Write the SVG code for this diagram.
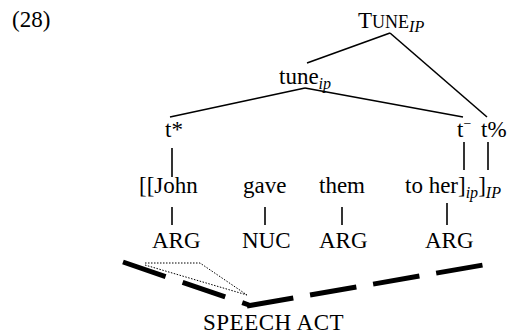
<svg xmlns="http://www.w3.org/2000/svg" width="510" height="333" viewBox="0 0 510 333">
<style>
text{font-size:23px;fill:#000}
.sub{font-style:italic;font-size:16px}
.sc{font-size:18px}
.ln{stroke:#000;stroke-width:1.6;fill:none}
.thick{stroke:#000;stroke-width:5;fill:none}
.dot{stroke:#000;stroke-width:1;fill:none;stroke-dasharray:1.5 1.5}
</style>
<rect width="510" height="333" fill="#fff"/>
<g font-family="'Liberation Serif', 'Times New Roman', 'DejaVu Serif', serif">
<g id="label"><text x="12" y="27">(28)</text></g>
<g id="TUNE"><text x="358" y="28">T<tspan class="sc">UNE</tspan><tspan class="sub" dy="4">IP</tspan></text></g>
<g id="tune"><text x="279" y="84">tune<tspan class="sub" dy="5">ip</tspan></text></g>
<g id="tstar"><text x="165" y="137">t*</text></g>
<g id="tminus"><text x="457" y="137">t<tspan font-size="14" dy="-9">−</tspan></text></g>
<g id="tpct"><text x="481" y="137">t%</text></g>
<g id="john"><text x="139" y="193">[[John</text></g>
<g id="gave"><text x="243" y="193">gave</text></g>
<g id="them"><text x="319" y="193">them</text></g>
<g id="toher"><text x="405" y="193">to her]<tspan class="sub" dy="5">ip</tspan><tspan dy="-5">]</tspan><tspan class="sub" dy="5">IP</tspan></text></g>
<g id="arg1"><text x="152" y="248">ARG</text></g>
<g id="nuc"><text x="242" y="248">NUC</text></g>
<g id="arg2"><text x="319" y="248">ARG</text></g>
<g id="arg3"><text x="425" y="248">ARG</text></g>
<g id="speechact"><text x="203" y="330" letter-spacing="0.5">SPEECH ACT</text></g>
</g>
<g id="connectors">
<line class="ln" x1="390" y1="33" x2="307" y2="63"/>
<line class="ln" x1="390" y1="33" x2="487" y2="117"/>
<line class="ln" x1="305" y1="88" x2="170" y2="117"/>
<line class="ln" x1="305" y1="88" x2="463" y2="117"/>
<line class="ln" x1="172" y1="148" x2="172" y2="177"/>
<line class="ln" x1="464" y1="142" x2="464" y2="170"/>
<line class="ln" x1="488" y1="142" x2="488" y2="170"/>
<line class="ln" x1="172" y1="207" x2="172" y2="225"/>
<line class="ln" x1="265" y1="207" x2="265" y2="225"/>
<line class="ln" x1="342" y1="207" x2="342" y2="225"/>
<line class="ln" x1="447" y1="203" x2="447" y2="225"/>
<line class="thick" x1="123" y1="262" x2="249" y2="305" stroke-dasharray="45 18"/>
<line class="thick" x1="247" y1="306" x2="483" y2="265" stroke-dasharray="47 17"/>
<polyline class="dot" points="145,263 200,263 247,295"/>
<line class="dot" x1="145" y1="265" x2="247" y2="295"/>
</g>
</svg>
